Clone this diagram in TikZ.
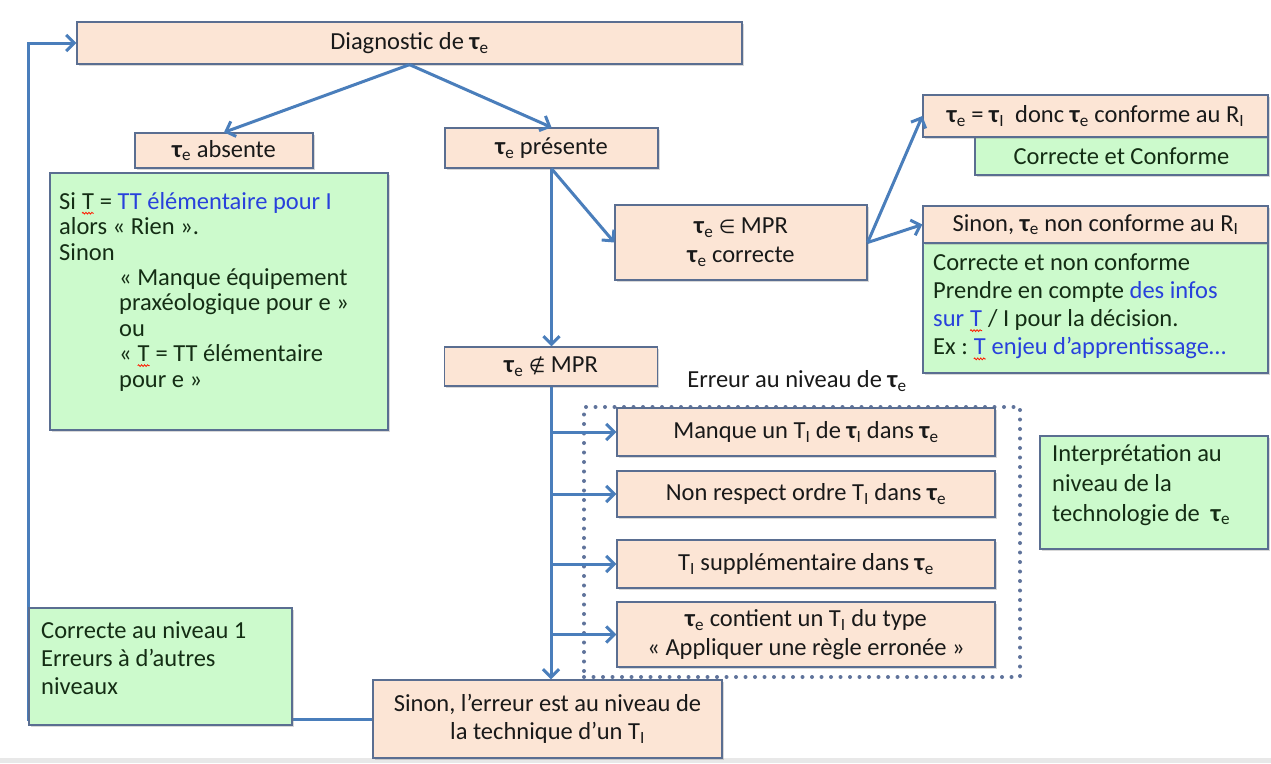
\documentclass[tikz,border=0pt]{standalone}
\usepackage{fontspec}
\setmainfont{Carlito}
\newfontfamily\symbfont{DejaVu Sans}
\usetikzlibrary{arrows.meta,shadows,calc,decorations.pathmorphing}
\definecolor{peach}{RGB}{252,229,213}
\definecolor{mint}{RGB}{204,250,204}
\definecolor{boxline}{RGB}{90,110,145}
\definecolor{arrowblue}{RGB}{74,126,187}
\definecolor{txt}{RGB}{25,25,25}
\definecolor{gtxt}{RGB}{20,45,20}
\definecolor{linkblue}{RGB}{40,65,220}
\definecolor{dotc}{RGB}{95,115,155}
\newcommand{\redwave}[1]{\tikz[baseline=(wv.base)]{\node[inner sep=0pt,outer sep=0pt](wv){#1};\draw[red!80!orange, line width=0.8pt, decorate, decoration={snake,amplitude=0.9pt,segment length=3pt}] ([yshift=-4pt]wv.base west) -- ([yshift=-4pt]wv.base east);}}
\newcommand{\taue}{\textbf{τ}\textsubscript{e}}
\newcommand{\taui}{\textbf{τ}\textsubscript{I}}
\newcommand{\myTI}{T\textsubscript{I}}
\newcommand{\myRI}{R\textsubscript{I}}
\newcommand{\myin}{{\symbfont\fontsize{19}{19}\selectfont ∈}}
\newcommand{\mynotin}{{\symbfont\fontsize{19}{19}\selectfont ∉}}
\pgfdeclarelayer{back}
\pgfdeclarelayer{bg}
\pgfsetlayers{back,bg,main}
\begin{document}
\begin{tikzpicture}[x=1pt,y=-1pt,
  font=\fontsize{24.5}{29}\selectfont,
  box/.style={draw=boxline, line width=1.3pt, inner sep=0pt,
    drop shadow={shadow xshift=1.5pt,shadow yshift=-2pt,opacity=0.3}},
  peachbox/.style={box, fill=peach, text=txt, align=center},
  greenbox/.style={box, fill=mint, text=gtxt},
  gtext/.style={inner sep=0pt, anchor=north west, align=left, text=gtxt},
  arr/.style={draw=arrowblue, line width=3pt, -{Straight Barb[length=8pt,width=16pt]}},
  dotframe/.style={draw=dotc, line width=4pt, dash pattern=on 0pt off 9.5pt, line cap=round}
]
\begin{pgfonlayer}{back}
\fill[white] (0,0) rectangle (1271,763);
\fill[gray!18] (0,758) rectangle (1271,763);
\end{pgfonlayer}
\useasboundingbox (0,0) rectangle (1271,763);

% top
\node[peachbox, minimum width=665pt, minimum height=42pt] (diag) at (409.5,43) {Diagnostic de \taue};
\node[peachbox, minimum width=178pt, minimum height=35pt] (absente) at (224,150.5) {\taue{} absente};
\node[peachbox, minimum width=213pt, minimum height=40pt] (presente) at (551.5,148) {\taue{} présente};

% left green
\node[greenbox, minimum width=338pt, minimum height=257pt] (leftg) at (219,301.5) {};
\node[gtext, font=\fontsize{24.5}{25.4}\selectfont] (leftgtxt) at (59,192) {Si \redwave{T} = \textcolor{linkblue}{TT élémentaire pour I}\\
alors « Rien ».\\
Sinon\\
\hspace*{60pt}« Manque équipement\\
\hspace*{60pt}praxéologique pour e »\\
\hspace*{60pt}ou\\
\hspace*{60pt}« \redwave{T} = TT élémentaire\\
\hspace*{60pt}pour e »};

% MPR
\node[peachbox, minimum width=252pt, minimum height=75pt, font=\fontsize{24.5}{29}\selectfont] (mpr) at (741,242.5) {\taue{} \myin{} MPR\\ \taue{} correcte};

% right boxes
\node[greenbox, minimum width=293pt, minimum height=38pt] (confg) at (1121.5,156) {Correcte et Conforme};
\node[peachbox, minimum width=345pt, minimum height=42pt] (conf) at (1095.5,116) {\taue{} = \taui{}\ \ donc \taue{} conforme au \myRI};
\node[greenbox, minimum width=345pt, minimum height=130pt] (nonconfg) at (1095.5,308) {};
\node[gtext, font=\fontsize{24.5}{28.3}\selectfont] (nonconfgtxt) at (933,253) {Correcte et non conforme\\
Prendre en compte \textcolor{linkblue}{des infos}\\
\textcolor{linkblue}{sur \redwave{T}} / I pour la décision.\\
Ex :~\textcolor{linkblue}{\redwave{T} enjeu d’apprentissage…}};
\node[peachbox, minimum width=345pt, minimum height=37pt] (nonconf) at (1095.5,224.5) {Sinon, \taue{} non conforme au \myRI};

% not MPR
\node[peachbox, minimum width=213pt, minimum height=39pt] (notmpr) at (551,366.5) {\taue{} \mynotin{} MPR};
\node[text=txt, inner sep=0pt] (errlabel) at (797,381) {Erreur au niveau de \taue};

% error frame and boxes
\begin{pgfonlayer}{bg}
\node[dotframe, minimum width=436pt, minimum height=270pt, inner sep=0pt] (errframe) at (802,542) {};
\end{pgfonlayer}
\node[peachbox, minimum width=378pt, minimum height=48pt] (e1) at (806,432) {Manque un \myTI{} de \taui{} dans \taue};
\node[peachbox, minimum width=378pt, minimum height=46pt] (e2) at (806,494) {Non respect ordre \myTI{} dans \taue};
\node[peachbox, minimum width=378pt, minimum height=48pt] (e3) at (806,564) {\myTI{} supplémentaire dans \taue};
\node[peachbox, minimum width=378pt, minimum height=65pt, font=\fontsize{24.5}{29}\selectfont] (e4) at (806,634.5) {\taue{} contient un \myTI{} du type\\ « Appliquer une règle erronée »};

% interpretation
\node[greenbox, minimum width=228pt, minimum height=113pt] (interp) at (1154,492.5) {};
\node[gtext, font=\fontsize{24.5}{30}\selectfont] (interptxt) at (1052,444) {Interprétation au\\ niveau de la\\ technologie de\ \ \taue};

% bottom
\node[greenbox, minimum width=263pt, minimum height=117pt] (corr1) at (160.5,666.5) {};
\node[gtext, font=\fontsize{24.5}{28}\selectfont] (corr1txt) at (41,621) {Correcte au niveau 1\\ Erreurs à d’autres\\ niveaux};
\node[peachbox, minimum width=349pt, minimum height=78pt, font=\fontsize{24.5}{28}\selectfont] (sinon) at (547.5,719) {Sinon, l’erreur est au niveau de\\ la technique d’un \myTI};

% connectors
\coordinate (loopcorner) at (28,719);
\begin{pgfonlayer}{bg}
\draw[arr] (sinon.west) -- (loopcorner) |- (diag.west);
\end{pgfonlayer}
\draw[arr] (diag.south) -- (absente.north);
\draw[arr] (diag.south) -- (presente.north);
\draw[arr] (presente.south) -- (mpr.west);
\draw[arr] (presente.south) -- (presente.south |- notmpr.north);
\draw[arr] (mpr.east) -- (conf.west);
\draw[arr] (mpr.east) -- (nonconf.west);
\draw[arr] (notmpr.south) -- (notmpr.south |- sinon.north);
\draw[arr] (notmpr.south |- e1.west) -- (e1.west);
\draw[arr] (notmpr.south |- e2.west) -- (e2.west);
\draw[arr] (notmpr.south |- e3.west) -- (e3.west);
\draw[arr] (notmpr.south |- e4.west) -- (e4.west);
\end{tikzpicture}
\end{document}
